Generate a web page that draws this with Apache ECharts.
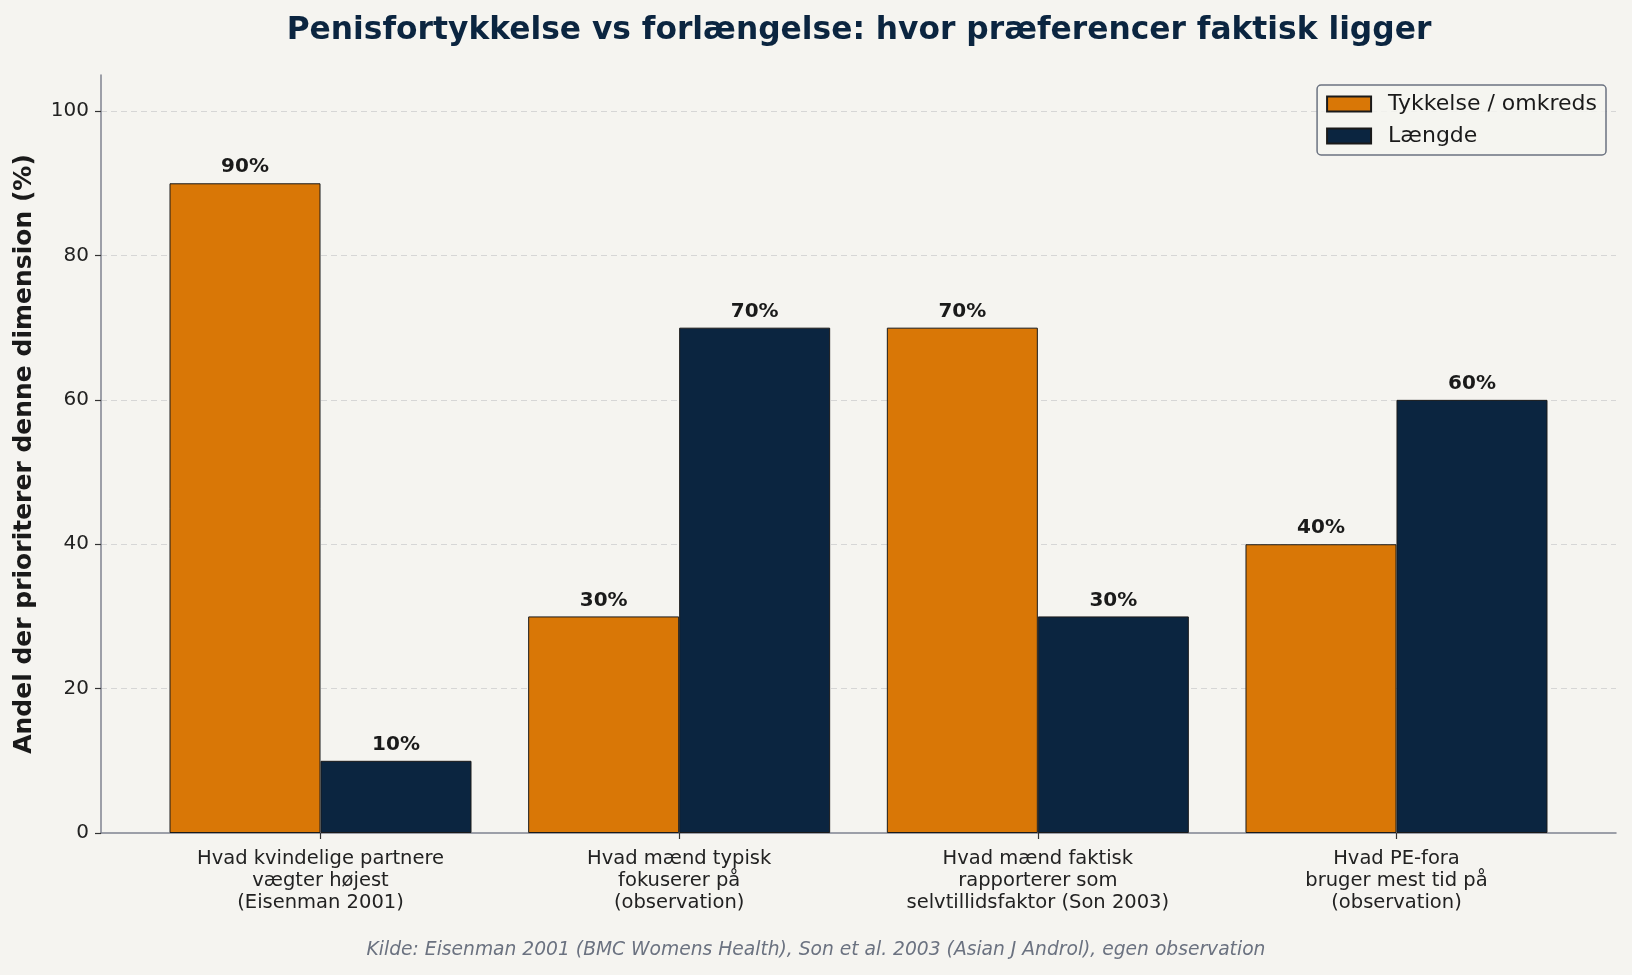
<!DOCTYPE html>
<html>
<head>
<meta charset="utf-8">
<script src="https://cdn.jsdelivr.net/npm/echarts@6/dist/echarts.min.js"></script>
<style>
html,body{margin:0;padding:0;background:#f5f4f0;}
#c{width:1632px;height:975px;}
</style>
</head>
<body>
<div id="c"></div>
<script>
const categories = [
  "Hvad kvindelige partnere\nvægter højest\n(Eisenman 2001)",
  "Hvad mænd typisk\nfokuserer på\n(observation)",
  "Hvad mænd faktisk\nrapporterer som\nselvtillidsfaktor (Son 2003)",
  "Hvad PE-fora\nbruger mest tid på\n(observation)"
];
const thickness = [90, 30, 70, 40];
const length = [10, 70, 30, 60];
const yTicks = [0, 20, 40, 60, 80, 100];
const seriesNames = ["Tykkelse / omkreds", "Længde"];

const FONT = "DejaVu Sans";
const chart = echarts.init(document.getElementById('c'), null, {renderer: 'canvas'});

function mk(name, vals, color) {
  return {
    name: name,
    type: 'bar',
    data: vals.map((v, i) => [i, v]),
    barWidth: 151,
    barGap: '0%',
    itemStyle: {color: color, borderColor: '#1a1a1a', borderWidth: 1},
    label: {
      show: true, position: 'top', distance: 6,
      formatter: p => p.value[1] + '%',
      fontFamily: FONT, fontWeight: 'bold', fontSize: 20, color: '#1a1a1a'
    },
    z: 3
  };
}

chart.setOption({
  backgroundColor: '#f5f4f0',
  animation: false,
  title: {
    text: 'Penisfortykkelse vs forlængelse: hvor præferencer faktisk ligger',
    left: 854, top: 10, textAlign: 'center',
    textStyle: {fontFamily: FONT, fontWeight: 'bold', fontSize: 31.3, color: '#0b2540'}
  },
  graphic: [{
    type: 'text', left: 'center', top: 941,
    style: {
      text: 'Kilde: Eisenman 2001 (BMC Womens Health), Son et al. 2003 (Asian J Androl), egen observation',
      fontFamily: FONT, fontStyle: 'italic', fontSize: 18.7, fill: '#6b7280'
    }
  }],
  legend: {
    orient: 'vertical', right: 26, top: 85,
    itemWidth: 44, itemHeight: 15, itemGap: 10,
    icon: 'rect',
    padding: [8, 9, 8, 9],
    borderColor: '#6b7280', borderWidth: 1.5, borderRadius: 4,
    backgroundColor: 'rgba(245,244,240,0.85)',
    textStyle: {fontFamily: FONT, fontSize: 22, color: '#1a1a1a', padding: [0, 0, 0, 12]},
    data: seriesNames
  },
  grid: {left: 101, right: 16, top: 75, bottom: 142},
  xAxis: {
    type: 'value', min: -0.612, max: 3.612,
    axisLine: {show: true, onZero: false, lineStyle: {color: '#7f8390', width: 1.5}},
    axisTick: {show: true, customValues: [0, 1, 2, 3], length: 6, lineStyle: {color: '#333', width: 1.2}},
    axisLabel: {
      customValues: [0, 1, 2, 3],
      formatter: v => categories[Math.round(v)] || '',
      fontFamily: FONT, fontSize: 19.5, color: '#222', lineHeight: 22, margin: 15
    },
    splitLine: {show: false}
  },
  yAxis: {
    type: 'value', min: 0, max: 105, interval: 20,
    name: 'Andel der prioriterer denne dimension (%)',
    nameLocation: 'middle', nameGap: 64, nameRotate: 90,
    nameTextStyle: {fontFamily: FONT, fontWeight: 'bold', fontSize: 25, color: '#1a1a1a'},
    axisLine: {show: true, onZero: false, lineStyle: {color: '#7f8390', width: 1.5}},
    axisTick: {show: true, customValues: yTicks, length: 6, lineStyle: {color: '#333', width: 1.2}},
    axisLabel: {customValues: yTicks, fontFamily: FONT, fontSize: 20, color: '#222', margin: 12},
    splitLine: {show: true, showMaxLine: true, showMinLine: false, lineStyle: {color: '#d6d6d6', type: [6, 4], width: 1.2}}
  },
  series: [mk(seriesNames[0], thickness, '#d97706'), mk(seriesNames[1], length, '#0b2540')]
});
</script>
</body>
</html>
